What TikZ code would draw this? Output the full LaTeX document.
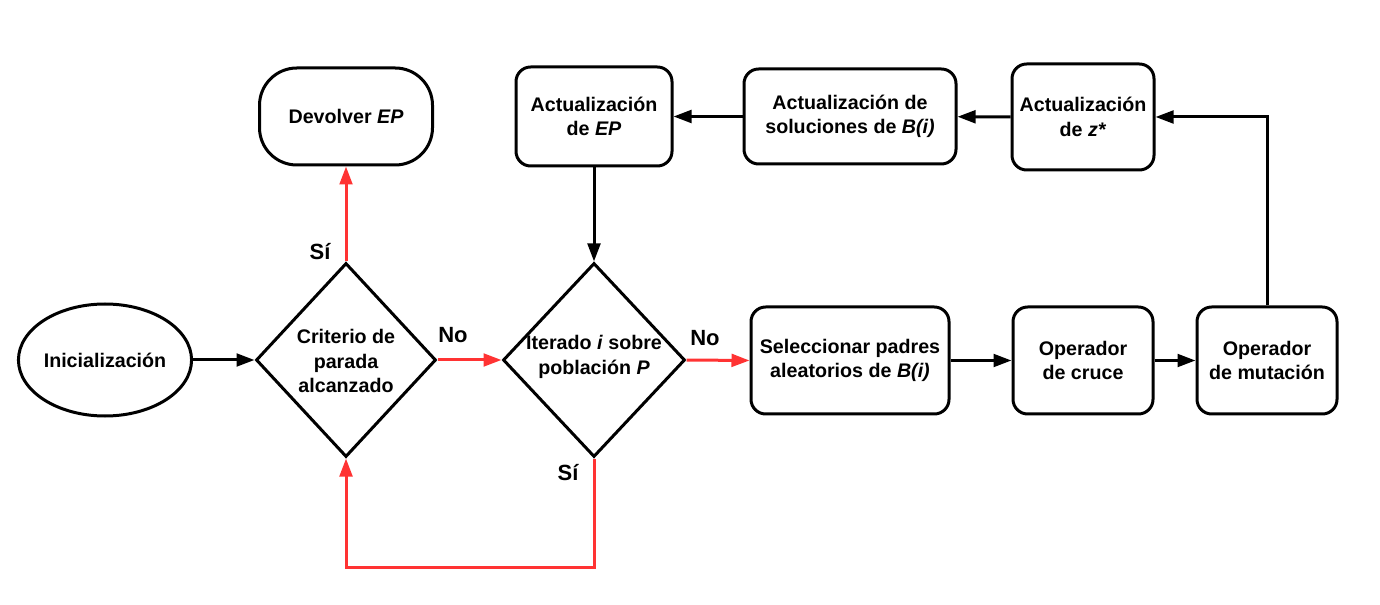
\documentclass[tikz,border=0pt]{standalone}
\usepackage{fontspec}
\setmainfont{Liberation Sans}
\usetikzlibrary{shapes.geometric,arrows.meta}
\definecolor{myred}{RGB}{255,51,51}
\begin{document}
\begin{tikzpicture}[x=0.75pt,y=-0.75pt, line width=2.25pt,
  every node/.style={font=\fontsize{14.75}{18.5}\selectfont\bfseries, align=center},
  box/.style={draw, rounded corners=11pt, inner sep=0pt},
  term/.style={draw, rounded corners=28pt, inner sep=0pt},
  oval/.style={draw, ellipse, inner sep=0pt},
  diam/.style={draw, diamond, inner sep=0pt},
  lbl/.style={font=\fontsize{16.5}{18}\selectfont\bfseries},
  arr/.style={-{Triangle[length=13.5pt,width=9.5pt]}},
  rarr/.style={arr, draw=myred}
]
\useasboundingbox (0,0) rectangle (1380,605);
\node[oval, minimum width=128.25pt, minimum height=84pt] (init) at (105,360) {Inicialización};
\node[diam, minimum width=135pt, minimum height=145.5pt] (d1) at (346,360) {};
\node (d1t) at (346,361) {Criterio de\\parada\\alcanzado};
\node[diam, minimum width=136.5pt, minimum height=145.5pt] (d2) at (594,360) {};
\node (d2t) at (594,357) {Iterado \textit{i} sobre\\población \textit{P}};
\node[term, minimum width=129.75pt, minimum height=72.75pt] (dev) at (346,116.5) {Devolver \textit{EP}};
\node[box, minimum width=117pt, minimum height=74.25pt] (aep) at (594,116.5) {Actualización\\de \textit{EP}};
\node[box, minimum width=159pt, minimum height=71.25pt] (asol) at (850,116.5) {Actualización de\\soluciones de \textit{B(i)}};
\node[box, minimum width=106.5pt, minimum height=79.5pt] (az) at (1083,117) {Actualización\\de \textit{z*}};
\node[box, minimum width=148.5pt, minimum height=80.25pt] (sel) at (850,360.5) {Seleccionar padres\\aleatorios de \textit{B(i)}};
\node[box, minimum width=105pt, minimum height=80.25pt] (cru) at (1083,360.5) {Operador\\de cruce};
\node[box, minimum width=105pt, minimum height=80.25pt] (mut) at (1267,360.5) {Operador\\de mutación};
\coordinate (lp) at (470,567);
% black connectors
\draw[arr] (init.east) -- (d1.west);
\draw[arr] (aep.south) -- (d2.north);
\draw[arr] (sel) -- (cru);
\draw[arr] (cru) -- (mut);
\draw[arr] (mut.north) |- (az.east);
\draw[arr] (az) -- (asol);
\draw[arr] (asol) -- (aep);
% red connectors
\draw[rarr] (d1.north) -- (dev.south);
\draw[rarr] (d1.east) -- (d2.west);
\draw[rarr] (d2.east) -- (sel.west);
\draw[rarr] (d2.south) |- (lp) -| (d1.south);
% labels
\node[lbl] (s1) at (320,252) {Sí};
\node[lbl] (n1) at (453,335) {No};
\node[lbl] (n2) at (705,338) {No};
\node[lbl] (s2) at (568,473) {Sí};
\end{tikzpicture}
\end{document}
